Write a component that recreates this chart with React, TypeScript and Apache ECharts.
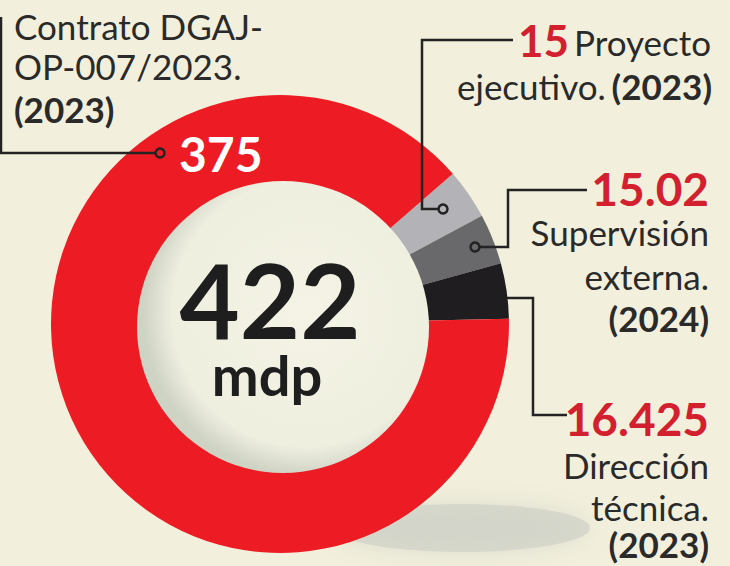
import React, { useEffect, useRef } from 'react';
import * as echarts from 'echarts';

// ---- data ----
const categories = ['Proyecto ejecutivo', 'Supervisión externa', 'Dirección técnica', 'Contrato DGAJ-OP-007/2023'];
const values = [15, 15.02, 16.425, 375];
const years = ['(2023)', '(2024)', '(2023)', '(2023)'];
const labelLines = [
  ['Proyecto', 'ejecutivo.'],
  ['Supervisión', 'externa.'],
  ['Dirección', 'técnica.'],
  ['Contrato DGAJ-', 'OP-007/2023.'],
];
const sliceColors = ['#b3b3b7', '#69696b', '#1f1d1f', '#ed1c24'];
const totalLabel = '422';
const unitLabel = 'mdp';

export default function App() {
  const ref = useRef<HTMLDivElement>(null);
  useEffect(() => {
    const chart = echarts.init(ref.current as HTMLDivElement, null, { renderer: 'svg' });
    const FONT = 'Lato, "Open Sans", sans-serif';
    const ink = '#2a2a2a';
    const redText = '#d3202f';
    const lineColor = '#232323';
    const txt = (text: string, x: number, y: number, size: number, weight: any, fill: string, align: string, lh?: number) => ({
      type: 'text',
      z: 20,
      silent: true,
      style: {
        text, x, y, fontSize: size, fontWeight: weight, fontFamily: FONT, fill,
        lineHeight: lh || Math.round(size * 1.0),
        textAlign: align, textVerticalAlign: 'middle', verticalAlign: 'middle',
      },
    });
    const line = (points: number[][]) => ({
      type: 'polyline', z: 20, silent: true, shape: { points },
      style: { stroke: lineColor, lineWidth: 2.5, fill: null },
    });
    const dot = (cx: number, cy: number) => ({
      type: 'circle', z: 21, silent: true, shape: { cx, cy, r: 4.5 },
      style: { stroke: lineColor, lineWidth: 2.5, fill: null },
    });
    const fmt = (v: number) => String(v);

    const graphics: any[] = [
      // floor shadow
      {
        type: 'ellipse', z: 0, silent: true,
        shape: { cx: 462, cy: 528, rx: 128, ry: 24 },
        style: { fill: 'rgba(208,210,199,0.7)', shadowBlur: 24, shadowColor: 'rgba(208,210,199,0.9)' },
      },
      // inner hole
      {
        type: 'circle', z: 5, silent: true,
        shape: { cx: 283, cy: 327, r: 146 },
        style: {
          fill: new echarts.graphic.RadialGradient(0.58, 0.45, 0.56, [
            { offset: 0, color: '#f4f3e5' },
            { offset: 0.82, color: '#efefe0' },
            { offset: 1, color: '#cfd3c4' },
          ]),
        },
      },
      // center total
      txt(totalLabel, 270, 298, 104, 'bold', '#1e1e1e', 'center', 76),
      txt(unitLabel, 267, 374, 56, 'bold', '#1e1e1e', 'center', 40),

      // left label (main contract)
      txt(labelLines[3][0], 14, 26, 35, 'normal', ink, 'left'),
      txt(labelLines[3][1], 14, 66, 35, 'normal', ink, 'left'),
      txt(years[3], 14, 109, 35, 'bold', ink, 'left'),
      line([[1, 17], [1, 153], [155, 153]]),
      dot(160, 153),
      txt(fmt(values[3]), 179, 153, 48, 'bold', '#ffffff', 'left'),

      // Proyecto ejecutivo
      txt(fmt(values[0]), 518, 40, 44, 'bold', redText, 'left'),
      txt(labelLines[0][0], 711, 42, 35, 'normal', ink, 'right'),
      txt(labelLines[0][1], 457, 86, 35, 'normal', ink, 'left'),
      txt(years[0], 712, 86, 35, 'bold', ink, 'right'),
      line([[513, 40], [422, 40], [422, 209], [438, 209]]),
      dot(443, 209),

      // Supervisión externa
      txt(fmt(values[1]), 709, 188, 46, 'bold', redText, 'right'),
      txt(labelLines[1][0], 709, 232, 35, 'normal', ink, 'right'),
      txt(labelLines[1][1], 709, 276, 35, 'normal', ink, 'right'),
      txt(years[1], 709, 318, 35, 'bold', ink, 'right'),
      line([[587, 190], [508, 190], [508, 247], [480, 247]]),
      dot(475, 247),

      // Dirección técnica
      txt(fmt(values[2]), 709, 418, 46, 'bold', redText, 'right'),
      txt(labelLines[2][0], 709, 465, 35, 'normal', ink, 'right'),
      txt(labelLines[2][1], 709, 507, 35, 'normal', ink, 'right'),
      txt(years[2], 709, 544, 35, 'bold', ink, 'right'),
      line([[507, 298], [533, 298], [533, 415], [567, 415]]),
    ];

    chart.setOption({
      animation: false,
      backgroundColor: '#f2f0dc',
      series: [
        {
          type: 'pie',
          z: 2,
          silent: true,
          center: [280, 324],
          radius: [138, 229],
          startAngle: 41,
          clockwise: true,
          label: { show: false },
          labelLine: { show: false },
          emphasis: { disabled: true },
          data: values.map((v, i) => ({ value: v, name: categories[i], itemStyle: { color: sliceColors[i] } })),
        },
      ],
      graphic: { elements: graphics },
    });
    return () => chart.dispose();
  }, []);
  return <div ref={ref} style={{ position: 'absolute', left: 0, top: 0, width: 730, height: 566 }} />;
}
